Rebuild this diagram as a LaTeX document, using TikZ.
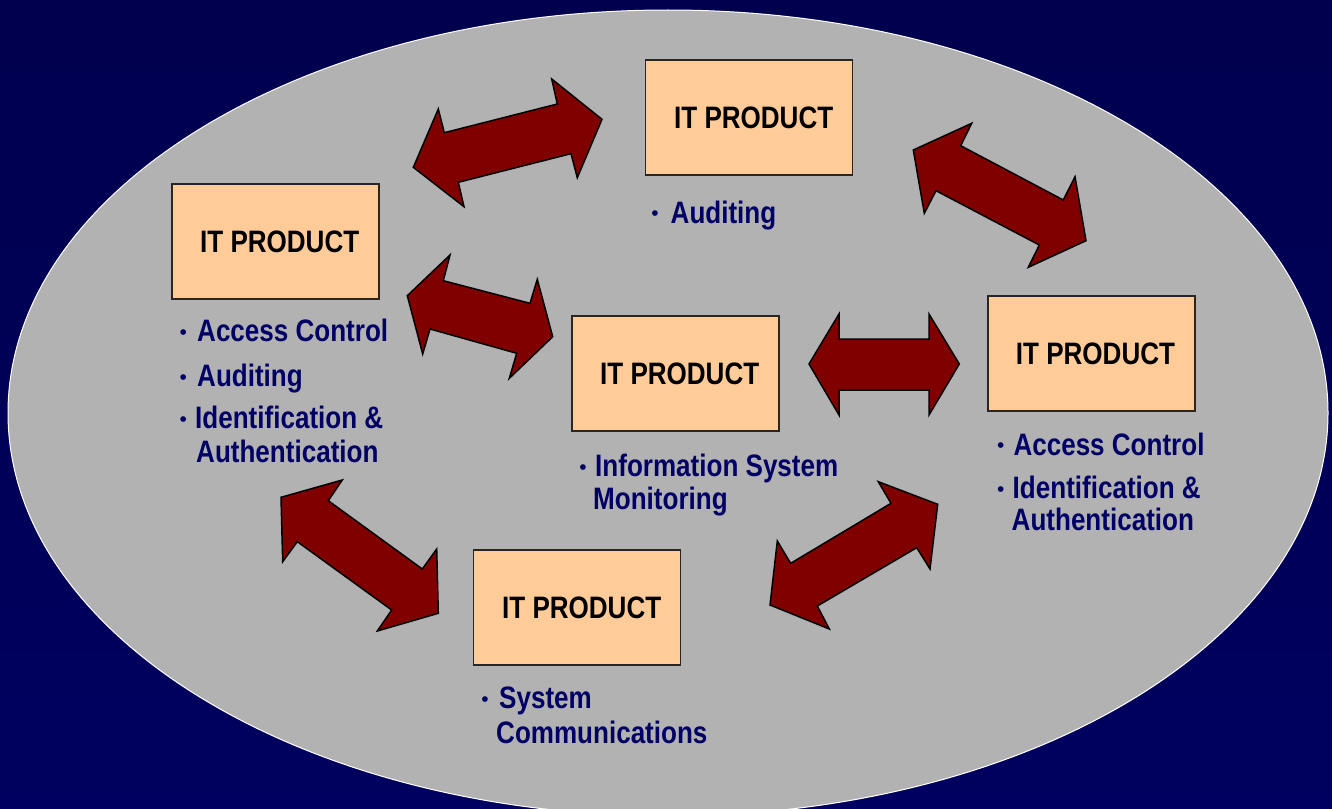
\documentclass[tikz,border=0pt]{standalone}
\usepackage{fontspec}
\setmainfont{Liberation Sans}
\usepackage{graphicx}
\definecolor{bgtop}{RGB}{0,0,78}
\definecolor{bgbot}{RGB}{0,0,96}
\definecolor{ellgray}{RGB}{178,178,178}
\definecolor{peach}{RGB}{255,204,153}
\definecolor{arrowred}{RGB}{128,0,0}
\definecolor{txtnavy}{RGB}{0,0,102}
\newcommand\sqz[1]{\scalebox{0.84}[1]{#1}}
\newcommand\bigfont{\fontsize{31}{31}\selectfont\bfseries}
\newcommand\dotfont{\fontsize{21}{21}\selectfont}
\begin{document}
\begin{tikzpicture}[x=1pt,y=-1pt,
  box/.style={draw=black!85, line width=1.5pt, fill=peach, minimum width=207pt,
    minimum height=115pt, inner sep=0pt, font=\bigfont, text=black},
  dblarrow/.style={draw=black, line width=1.5pt, fill=arrowred, line join=miter},
  item/.style={anchor=base west, inner sep=0pt, text=txtnavy, font=\bigfont},
  dot/.style={inner sep=0pt, text=txtnavy, font=\dotfont, yshift=-3pt}]
\shade[top color=bgtop, bottom color=bgbot] (0,0) rectangle (1332,808);
\useasboundingbox (0,0) rectangle (1332,808);
\draw[fill=ellgray, draw=white, line width=1pt] (668,413) ellipse [x radius=660, y radius=403];

% boxes
\node[box] (top) at (749.2,117.5) {\hspace*{9pt}\sqz{IT PRODUCT}};
\node[box] (left) at (275.7,241.7) {\hspace*{8pt}\sqz{IT PRODUCT}};
\node[box] (mid) at (675.7,373.5) {\hspace*{8pt}\sqz{IT PRODUCT}};
\node[box] (right) at (1091.5,353.5) {\hspace*{8pt}\sqz{IT PRODUCT}};
\node[box] (bot) at (577.2,607.5) {\hspace*{9pt}\sqz{IT PRODUCT}};

% double arrows
\draw[dblarrow] (413.3,167.3) -- (438.3,109) -- (444.3,132.7) -- (557.3,104) -- (551.7,79)
  -- (602,119.3) -- (577.3,177.7) -- (571,153.7) -- (458.3,182.3) -- (464,206.7) -- cycle;
\draw[dblarrow] (913.3,150) -- (971.7,123.3) -- (960.7,145.7) -- (1063.3,200) -- (1075,176.7)
  -- (1086,240.7) -- (1028.3,267.3) -- (1039.3,245) -- (936,190.7) -- (924.3,213.3) -- cycle;
\draw[dblarrow] (407.3,295.7) -- (450,255) -- (443.3,280.7) -- (530,303.3) -- (537.3,279.3)
  -- (552.7,336.7) -- (509.3,378.3) -- (516.7,353.3) -- (430,329) -- (422.7,354) -- cycle;
\draw[dblarrow] (809,364) -- (839,314) -- (839,339) -- (929,339) -- (929,314)
  -- (959.3,364) -- (929,415) -- (929,390) -- (839,390) -- (839,415) -- cycle;
\draw[dblarrow] (281,497.3) -- (342.3,480) -- (328.3,500.7) -- (422.3,569) -- (436.7,549)
  -- (438.3,613.3) -- (377.3,631) -- (391.7,610) -- (297.3,541.7) -- (282.7,561.7) -- cycle;
\draw[dblarrow] (937.7,504.3) -- (878.3,481.7) -- (891,503.3) -- (790.7,563.3) -- (777.3,541)
  -- (770,605) -- (829.3,629) -- (817.3,606) -- (916.7,547.7) -- (930,569) -- cycle;

% top item
\node[dot] (tb1) at (655,213) {•};
\node[item] (t1) at (670.5,223.3) {\sqz{Auditing}};

% left items
\node[dot] (lb1) at (183.3,331.7) {•};
\node[item] (l1) at (197,341.7) {\sqz{Access Control}};
\node[dot] (lb2) at (183.3,376.7) {•};
\node[item] (l2) at (197,386.7) {\sqz{Auditing}};
\node[dot] (lb3) at (183.3,418.3) {•};
\node[item] (l3) at (195,428.3) {\sqz{Identification \&}};
\node[item] (l4) at (196,462) {\sqz{Authentication}};

% middle items
\node[dot] (mb1) at (583,466.7) {•};
\node[item] (m1) at (595,476.7) {\sqz{Information System}};
\node[item] (m2) at (593,509) {\sqz{Monitoring}};

% right items
\node[dot] (rb1) at (1000.7,445) {•};
\node[item] (r1) at (1013.3,455) {\sqz{Access Control}};
\node[dot] (rb2) at (1000.7,488.3) {•};
\node[item] (r2) at (1012.5,498.3) {\sqz{Identification \&}};
\node[item] (r3) at (1011.5,530) {\sqz{Authentication}};

% bottom items
\node[dot] (bb1) at (485,698.3) {•};
\node[item] (b1) at (499,708.3) {\sqz{System}};
\node[item] (b2) at (496,743.3) {\sqz{Communications}};
\end{tikzpicture}
\end{document}
